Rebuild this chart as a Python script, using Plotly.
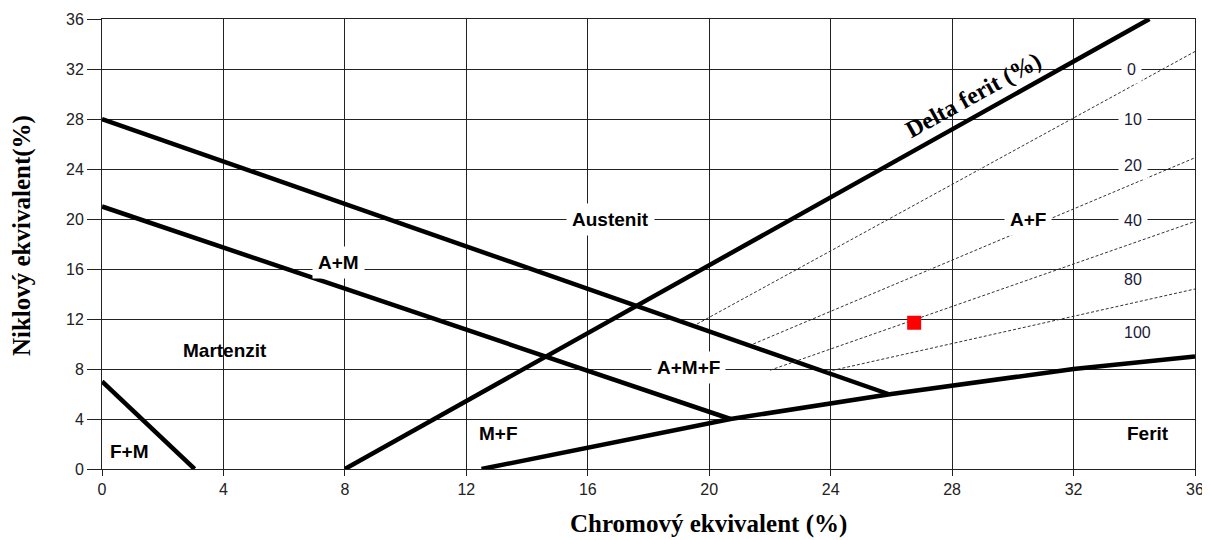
import plotly.graph_objects as go

# --- data (Schaeffler diagram) ---
fm_x = [0, 3.05]
fm_y = [7, 0]
am_x = [0, 20.7]
am_y = [21, 4.0]
aus_x = [0, 25.9]
aus_y = [28, 6.0]
fer_x = [12.5, 20.7, 26.0, 32.0, 36.0]
fer_y = [0, 4.0, 6.0, 8.0, 9.0]
delta_x = [8, 34.5]
delta_y = [0, 36]
iso_lines = {
    "0": ([19.6, 36], [11.6, 33.4]),
    "20": ([21.45, 36], [10.0, 24.9]),
    "40": ([22.0, 36], [7.9, 19.8]),
    "80": ([23.9, 36], [7.8, 14.4]),
}
point_x = [26.75]
point_y = [11.7]

region_labels = ["Austenit", "A+M", "Martenzit", "F+M", "M+F", "A+M+F", "A+F", "Ferit"]
region_x = [16.75, 7.8, 4.05, 0.92, 13.07, 19.33, 30.5, 34.45]
region_y = [19.95, 16.5, 9.45, 1.4, 2.86, 8.1, 19.97, 2.86]
region_bg = [True, True, False, False, False, True, True, False]

ferrite_labels = ["0", "10", "20", "40", "80", "100"]
ferrite_lab_x = [33.9, 33.95, 33.95, 33.95, 33.95, 34.1]
ferrite_lab_y = [32.0, 28.0, 24.3, 19.9, 15.2, 10.9]
ferrite_bg = [True, True, True, True, False, False]

x_ticks = [0, 4, 8, 12, 16, 20, 24, 28, 32, 36]
y_ticks = [0, 4, 8, 12, 16, 20, 24, 28, 32, 36]

fig = go.Figure()

thick = dict(color="black", width=4.5)
for xs, ys in [(fm_x, fm_y), (am_x, am_y), (aus_x, aus_y), (fer_x, fer_y), (delta_x, delta_y)]:
    fig.add_trace(go.Scatter(x=xs, y=ys, mode="lines", line=thick, showlegend=False, hoverinfo="skip"))

for k, (xs, ys) in iso_lines.items():
    fig.add_trace(go.Scatter(x=xs, y=ys, mode="lines",
                             line=dict(color="#333333", width=1, dash="3px,2px"),
                             showlegend=False, hoverinfo="skip"))

fig.add_trace(go.Scatter(x=point_x, y=point_y, mode="markers",
                         marker=dict(symbol="square", size=14, color="#ff0000"),
                         showlegend=False))

lab_font = dict(family="Liberation Sans, Arial", size=19, color="black")
for t, x, y, bg in zip(region_labels, region_x, region_y, region_bg):
    fig.add_annotation(x=x, y=y, text="<b>%s</b>" % t, showarrow=False, font=lab_font,
                       bgcolor="white" if bg else "rgba(0,0,0,0)", borderpad=5)

fer_font = dict(family="Liberation Sans, Arial", size=16, color="#1a1a3a")
for t, x, y, bg in zip(ferrite_labels, ferrite_lab_x, ferrite_lab_y, ferrite_bg):
    fig.add_annotation(x=x, y=y, text=t, showarrow=False, font=fer_font,
                       bgcolor="white" if bg else "rgba(0,0,0,0)", borderpad=5)

fig.add_annotation(x=28.7, y=29.9, text="<b>Delta ferit (%)</b>", showarrow=False,
                   textangle=-29, font=dict(family="Liberation Serif, Times New Roman", size=24, color="black"))

# axis titles
fig.add_annotation(xref="paper", yref="paper", x=0.555, y=-0.122, xanchor="center", yanchor="middle",
                   text="<b>Chromový ekvivalent (%)</b>",
                   showarrow=False, font=dict(family="Liberation Serif, Times New Roman", size=25, color="black"))
fig.add_annotation(xref="paper", yref="paper", x=-0.073, y=0.518, xanchor="center", yanchor="middle",
                   text="<b>Niklový ekvivalent(%)</b>",
                   showarrow=False, textangle=-90,
                   font=dict(family="Liberation Serif, Times New Roman", size=25, color="black"))

axis_common = dict(showgrid=True, gridcolor="#222222", gridwidth=1, automargin=False,
                   zeroline=False, showline=True, linecolor="#222222", linewidth=1, mirror=True,
                   ticks="outside", tickcolor="#222222",
                   tickfont=dict(family="Liberation Sans, Arial", size=16, color="#222222"))

fig.update_xaxes(range=[0, 36], tickvals=x_ticks, ticktext=[str(v) for v in x_ticks], ticklen=6, **axis_common)
fig.update_yaxes(range=[0, 36], tickvals=y_ticks, ticktext=[str(v) for v in y_ticks], ticklen=14, **axis_common)

# page body has an 8px margin, so the figure is sized to fill the rest of the window
fig.update_layout(width=1202, height=532, margin=dict(l=94, r=15, t=11, b=71),
                  plot_bgcolor="white", paper_bgcolor="white")

fig.write_html("out.html")
